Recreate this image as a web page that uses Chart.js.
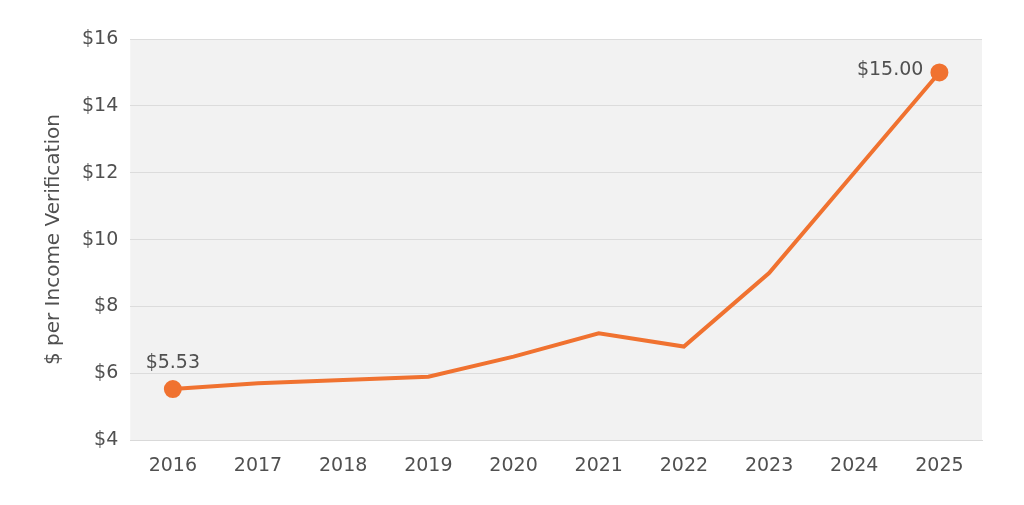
<!DOCTYPE html>
<html><head><meta charset="utf-8">
<script src="https://cdn.jsdelivr.net/npm/chart.js@4"></script>
<style>html,body{margin:0;background:#fff}#wrap{width:1024px;height:505px}</style>
</head><body><div id="wrap"><canvas id="c"></canvas></div>
<script>
const YEARS = ["2016","2017","2018","2019","2020","2021","2022","2023","2024","2025"];
const COST = [5.53, 5.7, 5.8, 5.9, 6.5, 7.2, 6.8, 9.0, 12.0, 15.0];
const Y_TICKS = [4, 6, 8, 10, 12, 14, 16];
const FONT = "DejaVu Sans, Verdana, sans-serif";
const INK = "#505050", ORANGE = "#F07230";

// grey plot background
const plotBg = {
  id: "plotBg",
  beforeDraw(chart) {
    const a = chart.chartArea, ctx = chart.ctx;
    ctx.save(); ctx.fillStyle = "#F2F2F2";
    ctx.fillRect(a.left, a.top, a.right - a.left, a.bottom - a.top);
    ctx.restore();
  },
};
// labels on first and last points
const endLabels = {
  id: "endLabels",
  afterDatasetsDraw(chart) {
    const pts = chart.getDatasetMeta(0).data, ctx = chart.ctx;
    ctx.save(); ctx.font = "19px " + FONT; ctx.fillStyle = INK;
    const first = pts[0], last = pts[pts.length - 1];
    ctx.textAlign = "center"; ctx.textBaseline = "bottom";
    ctx.fillText("$" + COST[0].toFixed(2), first.x, first.y - 16);
    ctx.textAlign = "right"; ctx.textBaseline = "middle";
    ctx.fillText("$" + COST[COST.length - 1].toFixed(2), last.x - 16, last.y - 2);
    ctx.restore();
  },
};

new Chart(document.getElementById("c"), {
  type: "line",
  data: {
    labels: YEARS,
    datasets: [{
      data: COST, borderColor: ORANGE, borderWidth: 4, tension: 0,
      pointRadius: COST.map((_, i) => (i === 0 || i === COST.length - 1) ? 7 : 0),
      pointBackgroundColor: ORANGE, pointBorderColor: ORANGE,
    }],
  },
  options: {
    responsive: true, maintainAspectRatio: false, animation: false,
    layout: { padding: { top: 39, right: 42, bottom: 22, left: 38 } },
    plugins: { legend: { display: false }, tooltip: { enabled: false } },
    scales: {
      x: {
        offset: true,
        grid: { display: false },
        border: { color: "#D9D9D9" },
        ticks: { color: INK, font: { family: FONT, size: 19 }, padding: 6 },
      },
      y: {
        min: 4, max: 16,
        afterBuildTicks: (ax) => { ax.ticks = Y_TICKS.map((v) => ({ value: v })); },
        grid: { color: "#DCDCDC", drawTicks: false },
        border: { display: false },
        ticks: { color: INK, font: { family: FONT, size: 19 }, padding: 12,
                 callback: (v) => "$" + v },
        title: { display: true, text: "$ per Income Verification", color: INK,
                 font: { family: FONT, size: 20 } },
      },
    },
  },
  plugins: [plotBg, endLabels],
});
</script></body></html>
